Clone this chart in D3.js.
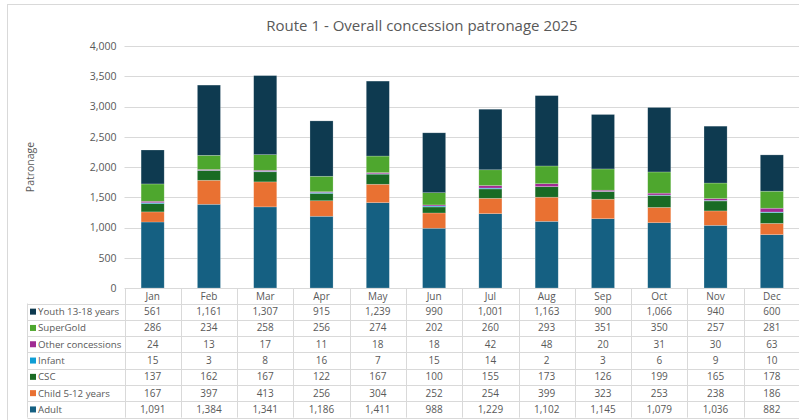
<!DOCTYPE html>
<html>
<head>
<meta charset="utf-8">
<script src="https://cdn.jsdelivr.net/npm/d3@7"></script>
<style>
  body { margin: 0; background: #fff; }
  svg { display: block; font-family: "Open Sans", "Noto Sans", sans-serif; }
</style>
</head>
<body>
<svg id="chart" width="799" height="420"></svg>
<script>
// months along the x axis
var months = ["Jan", "Feb", "Mar", "Apr", "May", "Jun", "Jul", "Aug", "Sep", "Oct", "Nov", "Dec"];

// series, bottom of the stack first
var adult = [1091, 1384, 1341, 1186, 1411, 988, 1229, 1102, 1145, 1079, 1036, 882];
var child = [167, 397, 413, 256, 304, 252, 254, 399, 323, 253, 238, 186];
var csc = [137, 162, 167, 122, 167, 100, 155, 173, 126, 199, 165, 178];
var infant = [15, 3, 8, 16, 7, 15, 14, 2, 3, 6, 9, 10];
var other = [24, 13, 17, 11, 18, 18, 42, 48, 20, 31, 30, 63];
var superGold = [286, 234, 258, 256, 274, 202, 260, 293, 351, 350, 257, 281];
var youth = [561, 1161, 1307, 915, 1239, 990, 1001, 1163, 900, 1066, 940, 600];

var seriesNames = ["Adult", "Child 5-12 years", "CSC", "Infant", "Other concessions", "SuperGold", "Youth 13-18 years"];
var yTicks = [0, 500, 1000, 1500, 2000, 2500, 3000, 3500, 4000];

var values = [adult, child, csc, infant, other, superGold, youth];
var colors = ["#156082", "#e97132", "#196b24", "#0f9ed5", "#a02b93", "#4ea72e", "#0e3a50"];

// build rows for d3.stack
var rows = months.map(function(m, i) {
  var r = { month: m };
  seriesNames.forEach(function(s, j) { r[s] = values[j][i]; });
  return r;
});

var svg = d3.select("#chart");
var fmt = d3.format(",");
var textColor = "#595959";
var lineColor = "#d9d9d9";

var plotLeft = 124.5, plotRight = 800, plotTop = 46, plotBottom = 288;

// outer chart frame
svg.append("rect")
  .attr("x", 7.5).attr("y", 4.5)
  .attr("width", 800).attr("height", 420)
  .attr("fill", "none").attr("stroke", lineColor);

svg.append("text")
  .attr("x", 422).attr("y", 31)
  .attr("text-anchor", "middle")
  .attr("font-size", 15)
  .attr("fill", textColor)
  .text("Route 1 - Overall concession patronage 2025");

var x = d3.scaleBand().domain(months).range([plotLeft, plotRight]).paddingInner(0).paddingOuter(0);
var y = d3.scaleLinear().domain([0, 4000]).range([plotBottom, plotTop]);

// gridlines
svg.append("g").selectAll("line")
  .data(yTicks.slice(1))
  .enter().append("line")
  .attr("x1", plotLeft).attr("x2", plotRight)
  .attr("y1", function(d) { return Math.round(y(d)) + 0.5; })
  .attr("y2", function(d) { return Math.round(y(d)) + 0.5; })
  .attr("stroke", lineColor);

// y axis labels
var yAxis = svg.append("g")
  .attr("transform", "translate(" + (plotLeft - 8) + ",0)")
  .call(d3.axisLeft(y).tickValues(yTicks).tickFormat(fmt).tickSize(0).tickPadding(0));
yAxis.select(".domain").remove();
yAxis.selectAll("text").attr("fill", textColor).attr("font-size", 10.5).attr("font-family", "Open Sans, sans-serif");

svg.append("text")
  .attr("transform", "translate(34," + ((plotTop + plotBottom) / 2) + ") rotate(-90)")
  .attr("text-anchor", "middle")
  .attr("font-size", 10.5)
  .attr("fill", textColor)
  .text("Patronage");

// stacked bars
var stack = d3.stack().keys(seriesNames);
var layers = stack(rows);
var barW = x.bandwidth() * 0.41;

svg.append("g").selectAll("g")
  .data(layers)
  .enter().append("g")
  .attr("fill", function(d, i) { return colors[i]; })
  .selectAll("rect")
  .data(function(d) { return d; })
  .enter().append("rect")
  .attr("x", function(d) { return x(d.data.month) + (x.bandwidth() - barW) / 2; })
  .attr("y", function(d) { return y(d[1]); })
  .attr("width", barW)
  .attr("height", function(d) { return y(d[0]) - y(d[1]); })
  .attr("stroke", "rgba(255,255,255,0.35)")
  .attr("stroke-width", 0.6);

// data table
var rowH = 16.3;
var headTop = plotBottom, tableTop = 303.5;
var legendLeft = 27.5;
var tableRows = seriesNames.slice().reverse();
var tableVals = values.slice().reverse();
var tableCols = colors.slice().reverse();
var tableBottom = tableTop + rowH * tableRows.length;

var tbl = svg.append("g");

// horizontal lines
tbl.append("line")
  .attr("x1", plotLeft).attr("x2", plotRight)
  .attr("y1", plotBottom + 0.5).attr("y2", plotBottom + 0.5)
  .attr("stroke", lineColor);
d3.range(tableRows.length + 1).forEach(function(k) {
  var yy = Math.round(tableTop + k * rowH) + 0.5;
  tbl.append("line")
    .attr("x1", legendLeft).attr("x2", plotRight)
    .attr("y1", yy).attr("y2", yy)
    .attr("stroke", lineColor);
});

// vertical lines
months.forEach(function(m) {
  var xx = Math.round(x(m)) + 0.5;
  tbl.append("line")
    .attr("x1", xx).attr("x2", xx)
    .attr("y1", headTop).attr("y2", tableBottom)
    .attr("stroke", lineColor);
});
tbl.append("line")
  .attr("x1", legendLeft).attr("x2", legendLeft)
  .attr("y1", tableTop).attr("y2", tableBottom)
  .attr("stroke", lineColor);

// month labels
tbl.selectAll(".month")
  .data(months)
  .enter().append("text")
  .attr("x", function(d) { return x(d) + x.bandwidth() / 2; })
  .attr("y", headTop + 11.5)
  .attr("text-anchor", "middle")
  .attr("font-size", 10)
  .attr("fill", textColor)
  .text(function(d) { return d; });

// rows
tableRows.forEach(function(name, r) {
  var cy = tableTop + r * rowH + rowH / 2;
  tbl.append("rect")
    .attr("x", 30).attr("y", cy - 3)
    .attr("width", 6).attr("height", 6)
    .attr("fill", tableCols[r]);
  tbl.append("text")
    .attr("x", 38).attr("y", cy + 3.5)
    .attr("font-size", 9.7)
    .attr("fill", textColor)
    .text(name);
  tbl.selectAll(null)
    .data(tableVals[r])
    .enter().append("text")
    .attr("x", function(d, i) { return x(months[i]) + x.bandwidth() / 2; })
    .attr("y", cy + 3.5)
    .attr("text-anchor", "middle")
    .attr("font-size", 10)
    .attr("fill", textColor)
    .text(function(d) { return fmt(d); });
});
</script>
</body>
</html>
